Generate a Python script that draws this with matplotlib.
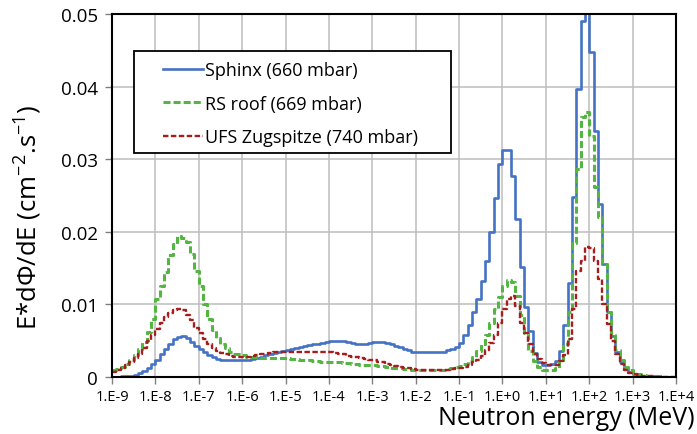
import numpy as np
import matplotlib
matplotlib.use("Agg")
import matplotlib.pyplot as plt
from matplotlib.patches import Rectangle

plt.rcParams['font.family'] = ['Open Sans', 'DejaVu Sans']
plt.rcParams['mathtext.fontset'] = 'custom'
plt.rcParams['mathtext.rm'] = 'Open Sans'
plt.rcParams['mathtext.it'] = 'Open Sans:italic'

# bin edges: 10 bins per decade from 1e-9 to 1e4 MeV
log_edges = np.linspace(-9, 4, 131)
edges = 10.0 ** log_edges

sphinx = [
    0.0000, 0.0000, 0.0001, 0.0001, 0.0002, 0.0003, 0.0005, 0.0008, 0.0012, 0.0018,
    0.0024, 0.0031, 0.0039, 0.0046, 0.0052, 0.0055, 0.0056, 0.0054, 0.0048, 0.0043,
    0.0038, 0.0034, 0.0030, 0.0027, 0.0025, 0.0024, 0.0023, 0.0023, 0.0023, 0.0023,
    0.0023, 0.0024, 0.0025, 0.0026, 0.0028, 0.0030, 0.0031, 0.0033, 0.0034, 0.0036,
    0.0037, 0.0039, 0.0040, 0.0042, 0.0043, 0.0044, 0.0045, 0.0046, 0.0047, 0.0048,
    0.0049, 0.0049, 0.0049, 0.0049, 0.0048, 0.0047, 0.0046, 0.0046, 0.0046, 0.0047,
    0.0048, 0.0048, 0.0048, 0.0047, 0.0045, 0.0043, 0.0041, 0.0039, 0.0037, 0.0035,
    0.0034, 0.0034, 0.0034, 0.0034, 0.0034, 0.0035, 0.0035, 0.0037, 0.0039, 0.0042,
    0.0047, 0.0058, 0.0072, 0.0090, 0.0108, 0.0132, 0.0160, 0.0200, 0.0246, 0.0293,
    0.0312, 0.0312, 0.0277, 0.0218, 0.0151, 0.0096, 0.0064, 0.0033, 0.0021, 0.0017,
    0.0016, 0.0018, 0.0022, 0.0036, 0.0071, 0.0130, 0.0248, 0.0397, 0.0490, 0.0505,
    0.0448, 0.0339, 0.0238, 0.0156, 0.0089, 0.0057, 0.0034, 0.0020, 0.0011, 0.0007,
    0.0004, 0.0003, 0.0002, 0.0001, 0.0001, 0.0001, 0.0000, 0.0000, 0.0000, 0.0000,
]

rs_roof = [
    0.0009, 0.0011, 0.0014, 0.0018, 0.0023, 0.0030, 0.0038, 0.0048, 0.0062, 0.0080,
    0.0108, 0.0125, 0.0145, 0.0168, 0.0183, 0.0194, 0.0192, 0.0186, 0.0170, 0.0146,
    0.0125, 0.0100, 0.0080, 0.0065, 0.0054, 0.0046, 0.0040, 0.0035, 0.0032, 0.0031,
    0.0030, 0.0028, 0.0027, 0.0027, 0.0026, 0.0026, 0.0026, 0.0026, 0.0026, 0.0026,
    0.0026, 0.0025, 0.0025, 0.0024, 0.0024, 0.0023, 0.0022, 0.0022, 0.0021, 0.0021,
    0.0020, 0.0020, 0.0020, 0.0019, 0.0019, 0.0018, 0.0018, 0.0017, 0.0017, 0.0017,
    0.0016, 0.0015, 0.0015, 0.0014, 0.0013, 0.0013, 0.0012, 0.0011, 0.0011, 0.0010,
    0.0010, 0.0009, 0.0009, 0.0009, 0.0009, 0.0009, 0.0010, 0.0011, 0.0012, 0.0014,
    0.0015, 0.0018, 0.0022, 0.0028, 0.0036, 0.0045, 0.0058, 0.0075, 0.0093, 0.0110,
    0.0125, 0.0133, 0.0131, 0.0112, 0.0085, 0.0060, 0.0036, 0.0022, 0.0014, 0.0010,
    0.0009, 0.0010, 0.0013, 0.0020, 0.0045, 0.0090, 0.0185, 0.0287, 0.0358, 0.0365,
    0.0332, 0.0262, 0.0220, 0.0155, 0.0090, 0.0058, 0.0037, 0.0023, 0.0014, 0.0009,
    0.0006, 0.0004, 0.0003, 0.0002, 0.0001, 0.0001, 0.0001, 0.0000, 0.0000, 0.0000,
]

ufs_zugspitze = [
    0.0007, 0.0009, 0.0012, 0.0016, 0.0020, 0.0026, 0.0032, 0.0040, 0.0049, 0.0058,
    0.0066, 0.0075, 0.0082, 0.0088, 0.0092, 0.0094, 0.0092, 0.0086, 0.0078, 0.0068,
    0.0060, 0.0052, 0.0045, 0.0040, 0.0036, 0.0033, 0.0031, 0.0029, 0.0028, 0.0028,
    0.0028, 0.0028, 0.0029, 0.0030, 0.0031, 0.0032, 0.0033, 0.0034, 0.0034, 0.0035,
    0.0035, 0.0035, 0.0035, 0.0035, 0.0035, 0.0035, 0.0035, 0.0035, 0.0035, 0.0035,
    0.0034, 0.0033, 0.0032, 0.0031, 0.0029, 0.0028, 0.0027, 0.0026, 0.0025, 0.0024,
    0.0023, 0.0021, 0.0020, 0.0018, 0.0017, 0.0015, 0.0014, 0.0013, 0.0012, 0.0011,
    0.0010, 0.0010, 0.0009, 0.0009, 0.0009, 0.0009, 0.0010, 0.0010, 0.0011, 0.0012,
    0.0012, 0.0014, 0.0017, 0.0020, 0.0024, 0.0029, 0.0037, 0.0047, 0.0058, 0.0075,
    0.0093, 0.0108, 0.0112, 0.0098, 0.0075, 0.0060, 0.0045, 0.0032, 0.0025, 0.0019,
    0.0016, 0.0016, 0.0017, 0.0022, 0.0030, 0.0052, 0.0094, 0.0146, 0.0160, 0.0179,
    0.0177, 0.0160, 0.0135, 0.0100, 0.0073, 0.0050, 0.0032, 0.0018, 0.0010, 0.0006,
    0.0004, 0.0003, 0.0002, 0.0001, 0.0001, 0.0000, 0.0000, 0.0000, 0.0000, 0.0000,
]

series_labels = ["Sphinx (660 mbar)", "RS roof (669 mbar)", "UFS Zugspitze (740 mbar)"]
x_tick_labels = ["1.E-9", "1.E-8", "1.E-7", "1.E-6", "1.E-5", "1.E-4", "1.E-3",
                 "1.E-2", "1.E-1", "1.E+0", "1.E+1", "1.E+2", "1.E+3", "1.E+4"]
y_ticks = [0, 0.01, 0.02, 0.03, 0.04, 0.05]
y_tick_labels = ["0", "0.01", "0.02", "0.03", "0.04", "0.05"]

W, H = 697, 435
fig = plt.figure(figsize=(W / 100, H / 100), dpi=100)
ax = fig.add_axes([112 / W, 1 - 378 / H, (676 - 112) / W, (378 - 15) / H])

styles = [
    dict(color='#4472C4', lw=1.9, linestyle='-'),
    dict(color='#55B543', lw=2.2, linestyle=(0, (2.3, 1.0))),
    dict(color='#A51E1E', lw=1.7, linestyle=(0, (2.3, 1.05))),
]
handles = []
for vals, lab, st in zip([sphinx, rs_roof, ufs_zugspitze], series_labels, styles):
    v = np.asarray(vals)
    h, = ax.step(edges, np.append(v, v[-1]), where='post', label=lab, **st)
    handles.append(h)

ax.set_xscale('log')
ax.set_xlim(1e-9, 1e4)
ax.set_ylim(0, 0.05)
ax.set_xticks(10.0 ** np.arange(-9, 5))
ax.set_xticklabels(x_tick_labels)
ax.xaxis.set_minor_locator(matplotlib.ticker.NullLocator())
ax.set_yticks(y_ticks)
ax.set_yticklabels(y_tick_labels)
ax.grid(True, color='#BDBDBD', lw=1.1)
ax.set_axisbelow(True)
for s in ax.spines.values():
    s.set_linewidth(1.5)
    s.set_color('black')
ax.tick_params(axis='both', length=5, width=1, color='#808080')
ax.tick_params(axis='x', labelsize=10.5, pad=3.5)
ax.tick_params(axis='y', labelsize=13.5, pad=5)

fig.text(28 / W, 1 - 217 / H, r'E*d$\Phi$/dE (cm$^{\mathrm{-2}}$.s$^{\mathrm{-1}}$)',
         rotation=90, ha='center', va='center', fontsize=18.5)
fig.text(695 / W, 1 - 425 / H, 'Neutron energy (MeV)', ha='right', va='baseline', fontsize=18)

# legend frame
rect = Rectangle((134 / W, 1 - 154 / H), (451 - 134) / W, (154 - 52) / H,
                 transform=fig.transFigure, facecolor='white', edgecolor='black',
                 lw=1.3, zorder=5)
fig.patches.append(rect)
leg = fig.legend(handles=handles, loc='upper left', bbox_to_anchor=(163 / W, 1 - 62 / H),
                 frameon=False, fontsize=13, handlelength=2.2, handletextpad=0.15,
                 labelspacing=0.86, borderpad=0, borderaxespad=0)
leg.set_zorder(6)

fig.savefig('out.png', dpi=100)
